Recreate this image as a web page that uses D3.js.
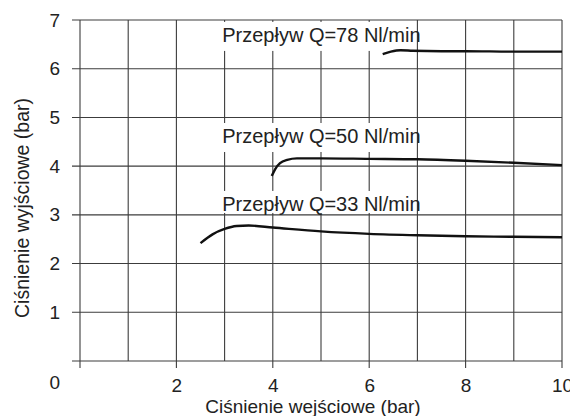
<!DOCTYPE html>
<html>
<head>
<meta charset="utf-8">
<script src="https://cdn.jsdelivr.net/npm/d3@7"></script>
<style>
  body { margin: 0; background: #fff; }
  svg { display: block; font-family: "Liberation Sans", Arial, sans-serif; }
</style>
</head>
<body>
<svg id="chart" width="570" height="416"></svg>
<script>
// Dane
const seriesNames = ['Przepływ Q=78 Nl/min', 'Przepływ Q=50 Nl/min', 'Przepływ Q=33 Nl/min'];

const q78x = [6.28, 6.45, 6.65, 6.9, 7.5, 8, 9, 10];
const q78y = [6.30, 6.35, 6.38, 6.37, 6.36, 6.36, 6.35, 6.35];

const q50x = [3.98, 4.05, 4.15, 4.3, 4.5, 5, 6, 7, 8, 9, 10];
const q50y = [3.80, 3.94, 4.06, 4.13, 4.16, 4.16, 4.15, 4.14, 4.11, 4.07, 4.02];

const q33x = [2.5, 2.75, 3.0, 3.25, 3.5, 4, 5, 6, 7, 8, 9, 10];
const q33y = [2.42, 2.60, 2.71, 2.77, 2.78, 2.74, 2.66, 2.61, 2.58, 2.56, 2.55, 2.54];

const xTickLabels = [2, 4, 6, 8, 10];
const yTickLabels = [1, 2, 3, 4, 5, 6, 7];

const xTitle = 'Ciśnienie wejściowe (bar)';
const yTitle = 'Ciśnienie wyjściowe (bar)';

const svg = d3.select('#chart');
const width = +svg.attr('width');
const height = +svg.attr('height');
const margin = { top: 20, right: 8, bottom: 55, left: 80 };
const w = width - margin.left - margin.right;
const h = height - margin.top - margin.bottom;

const x = d3.scaleLinear().domain([0, 10]).range([0, w]);
const y = d3.scaleLinear().domain([0, 7]).range([h, 0]);

const plot = svg.append('g')
    .attr('transform', `translate(${margin.left},${margin.top})`);

const gridColor = '#3c3c3c';
const textColor = '#222';

// Siatka pionowa (parzyste wartości mają krótki znacznik pod osią)
plot.append('g')
    .selectAll('line')
    .data(d3.range(0, 11))
    .enter().append('line')
    .attr('x1', d => x(d)).attr('x2', d => x(d))
    .attr('y1', 0)
    .attr('y2', d => (d % 2 === 0 ? h + 7 : h))
    .attr('stroke', gridColor)
    .attr('stroke-width', 1.1);

// Siatka pozioma
plot.append('g')
    .selectAll('line')
    .data(d3.range(0, 8))
    .enter().append('line')
    .attr('x1', -8).attr('x2', w)
    .attr('y1', d => y(d)).attr('y2', d => y(d))
    .attr('stroke', gridColor)
    .attr('stroke-width', 1.1);

// Etykiety osi X
const xAxis = d3.axisBottom(x).tickValues(xTickLabels).tickSize(0).tickPadding(18)
    .tickFormat(d3.format('d'));
plot.append('g')
    .attr('transform', `translate(0,${h})`)
    .call(xAxis)
    .call(g => g.select('.domain').remove())
    .call(g => g.selectAll('text')
        .attr('fill', textColor)
        .style('font-size', '19px'));

// Etykiety osi Y
const yAxis = d3.axisLeft(y).tickValues(yTickLabels).tickSize(0).tickPadding(20)
    .tickFormat(d3.format('d'));
plot.append('g')
    .call(yAxis)
    .call(g => g.select('.domain').remove())
    .call(g => g.selectAll('text')
        .attr('fill', textColor)
        .style('font-size', '19px'));

// "0" w rogu
plot.append('text')
    .attr('x', x(0) - 20)
    .attr('y', h + 28)
    .attr('text-anchor', 'end')
    .attr('fill', textColor)
    .style('font-size', '19px')
    .text('0');

// Tytuły osi
svg.append('text')
    .attr('x', 313)
    .attr('y', 413)
    .attr('text-anchor', 'middle')
    .attr('fill', textColor)
    .style('font-size', '19px')
    .text(xTitle);

svg.append('text')
    .attr('transform', 'translate(29,208) rotate(-90)')
    .attr('text-anchor', 'middle')
    .attr('fill', textColor)
    .style('font-size', '19.5px')
    .text(yTitle);

// Krzywe
const line = d3.line()
    .x(d => x(d[0]))
    .y(d => y(d[1]))
    .curve(d3.curveMonotoneX);

const curves = [
    d3.zip(q78x, q78y),
    d3.zip(q50x, q50y),
    d3.zip(q33x, q33y)
];

// Podpisy (pozycje w jednostkach danych)
const labelX = 2.95;
const labelBase = [6.55, 4.475, 3.08];

labelBase.forEach((b, i) => {
    const by = y(b);
    plot.append('rect')
        .attr('x', x(labelX) - 6)
        .attr('y', by - 20)
        .attr('width', x(6.3) - x(labelX) + 6)
        .attr('height', i === 2 ? 22 : 29)
        .attr('fill', '#fff');
});

plot.selectAll('.curve')
    .data(curves)
    .enter().append('path')
    .attr('class', 'curve')
    .attr('d', line)
    .attr('fill', 'none')
    .attr('stroke', '#111')
    .attr('stroke-width', 2.4);

labelBase.forEach((b, i) => {
    plot.append('text')
        .attr('x', x(labelX))
        .attr('y', y(b))
        .attr('fill', textColor)
        .style('font-size', '20px')
        .text(seriesNames[i]);
});
</script>
</body>
</html>
